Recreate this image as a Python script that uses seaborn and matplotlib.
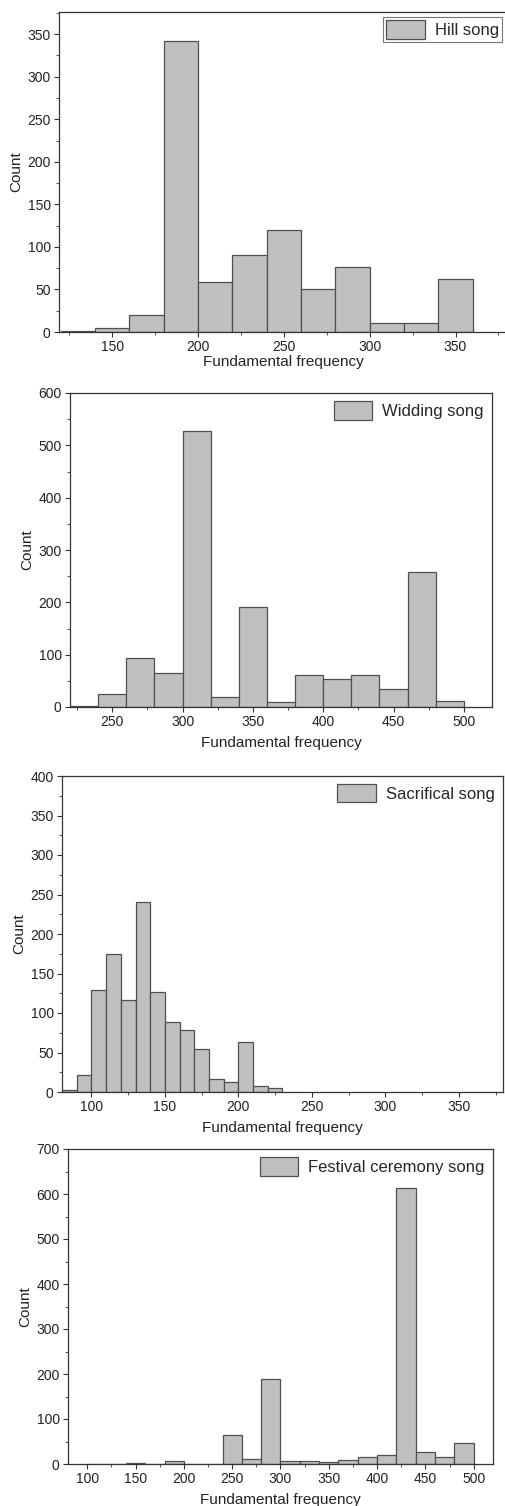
#!/usr/bin/env python3
"""
Fundamental frequency histograms for four song types
"""

import numpy as np
import pandas as pd
import matplotlib
matplotlib.use('Agg')
import matplotlib.pyplot as plt
import seaborn as sns
from matplotlib.ticker import MultipleLocator

sns.set_style('ticks')
plt.rcParams['font.family'] = ['Liberation Sans', 'DejaVu Sans']

# Bin edges (Hz) and counts
hill_edges = [120, 140, 160, 180, 200, 220, 240, 260, 280, 300, 320, 340, 360]
hill_counts = [1, 5, 20, 342, 59, 91, 120, 50, 76, 10, 10, 62]

wedding_edges = [220, 240, 260, 280, 300, 320, 340, 360, 380, 400, 420, 440, 460, 480, 500]
wedding_counts = [2, 24, 93, 65, 528, 19, 191, 9, 62, 54, 62, 34, 258, 12]

sacrifice_edges = [80, 90, 100, 110, 120, 130, 140, 150, 160, 170, 180, 190, 200, 210, 220, 230]
sacrifice_counts = [2, 22, 129, 175, 117, 241, 126, 88, 79, 54, 16, 13, 63, 8, 5]

festival_edges = [100, 120, 140, 160, 180, 200, 220, 240, 260, 280, 300, 320, 340, 360,
                  380, 400, 420, 440, 460, 480, 500]
festival_counts = [1, 0, 3, 0, 7, 0, 0, 64, 12, 190, 6, 6, 4, 8, 15, 19, 613, 27, 16, 47]

labels = ['Hill song', 'Widding song', 'Sacrifical song', 'Festival ceremony song']

W, H = 506, 1506
fig = plt.figure(figsize=(W / 100, H / 100), dpi=100)

# panel pixel boxes: left, top, right, bottom
boxes = [(59, 12, 507, 332), (70, 393, 492, 707), (62, 776, 503, 1092), (68, 1149, 493, 1464)]
xlims = [(119, 380), (220, 520), (80, 380), (80, 520)]
ylims = [(0, 376), (0, 600), (0, 400), (0, 700)]
ymajor = [50, 100, 50, 100]
xlabel_pad = [0.5, 4.5, 5, 4.5]
frames = [True, False, False, False]

panels = [(hill_edges, hill_counts), (wedding_edges, wedding_counts),
          (sacrifice_edges, sacrifice_counts), (festival_edges, festival_counts)]

for i, (edges, counts) in enumerate(panels):
    l, t, r, b = boxes[i]
    ax = fig.add_axes([l / W, 1 - b / H, (r - l) / W, (b - t) / H])
    e = np.array(edges, dtype=float)
    df = pd.DataFrame({'freq': (e[:-1] + e[1:]) / 2, 'count': counts})
    sns.histplot(data=df, x='freq', weights='count', bins=list(edges), ax=ax,
                 color='#c0c0c0', edgecolor='#505050', linewidth=0.9,
                 alpha=1, label=labels[i])
    ax.set_xlim(*xlims[i])
    ax.set_ylim(*ylims[i])
    ax.xaxis.set_major_locator(MultipleLocator(50))
    ax.xaxis.set_minor_locator(MultipleLocator(25))
    ax.yaxis.set_major_locator(MultipleLocator(ymajor[i]))
    ax.yaxis.set_minor_locator(MultipleLocator(ymajor[i] / 2))
    ax.tick_params(which='both', direction='out', labelsize=10, colors='#333333',
                   labelcolor='#222222', pad=2.5)
    ax.tick_params(which='major', length=3.5, width=0.8)
    ax.tick_params(which='minor', length=2, width=0.6)
    for s in ax.spines.values():
        s.set_linewidth(0.9)
        s.set_color('#333333')
    ax.set_xlabel('Fundamental frequency', fontsize=11, labelpad=xlabel_pad[i], color='#222222')
    ax.set_ylabel('Count', fontsize=11, color='#222222', labelpad=3)
    leg = ax.legend(loc='upper right', fontsize=12, frameon=frames[i], fancybox=False,
                    borderaxespad=0.3, handlelength=2.3, handleheight=1.3,
                    handletextpad=0.6, borderpad=0.2)
    if frames[i]:
        leg.get_frame().set_edgecolor('#555555')
        leg.get_frame().set_linewidth(0.8)

fig.savefig('out.png', dpi=100)
print('saved out.png')
